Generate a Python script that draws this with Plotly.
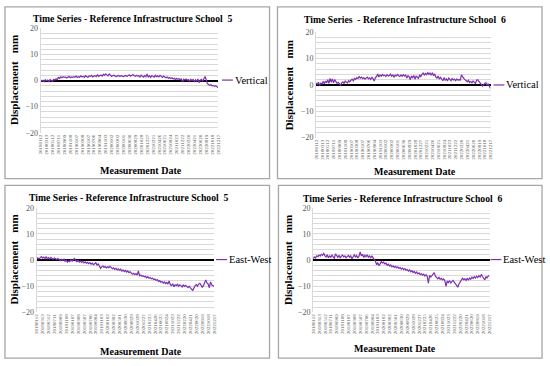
import pandas as pd
import plotly.graph_objects as go

# ---------------- data ----------------
start_date = "2018-01-12"
n_points = 151
dates = pd.date_range(start_date, periods=n_points, freq="12D")

tick_labels = ["20180112", "20180313", "20180512", "20180711", "20180909", "20181108",
               "20190107", "20190308", "20190507", "20190706", "20190904", "20191103",
               "20200102", "20200302", "20200501", "20200630", "20200829", "20201028",
               "20201227", "20210225", "20210426", "20210625", "20210824", "20211023",
               "20211222", "20220220", "20220421", "20220620", "20220819", "20221018",
               "20221217"]

vertical_school5 = [
    0.2, -0.2, 0.1, -0.4, 0.3, -0.1, 0.2, -0.5, 0.4, 0.0,
    -0.3, 0.5, 0.2, 0.7, 0.3, 1.2, 0.8, 1.4, 1.1, 1.5,
    1.2, 1.4, 1.0, 1.3, 1.6, 1.1, 1.4, 1.2, 1.5, 1.3,
    1.7, 1.2, 1.5, 1.3, 1.8, 1.4, 1.6, 1.2, 1.9, 1.5,
    1.3, 1.8, 1.6, 2.0, 1.4, 1.7, 1.9, 1.5, 2.2, 1.6,
    1.9, 2.1, 1.7, 2.4, 2.0, 2.6, 2.2, 1.8, 2.5, 2.0,
    1.6, 1.9, 2.1, 1.7, 1.5, 1.8, 2.0, 1.6, 1.9, 1.7,
    1.5, 1.8, 2.0, 1.6, 1.9, 2.2, 1.7, 1.9, 2.3, 1.8,
    1.6, 2.0, 1.7, 1.9, 1.4, 2.1, 1.8, 1.3, 1.9, 1.5,
    2.5, 1.4, 1.8, 1.2, 1.9, 1.6, 1.3, 2.0, 1.5, 1.8,
    1.4, 2.0, 1.5, 1.2, 1.7, 1.3, 1.1, 1.4, 0.9, 1.2,
    0.8, 1.1, 0.6, 0.9, 0.4, 0.8, 0.5, 0.7, 0.3, 0.6,
    -0.6, 0.5, 0.2, 0.6, 0.1, 0.4, -0.3, 0.5, 0.0, 0.4,
    -0.5, 0.3, -0.2, 0.6, -0.8, 0.2, 0.5, -0.3, 0.4, 1.6,
    0.3, -1.2, -1.5, -1.8, -1.6, -2.0, -1.9, -2.2, -2.0, -2.4, -2.7]

vertical_school6 = [
    0.8, 0.3, 1.0, -0.2, 0.7, 0.4, 1.2, 0.5, 1.5, 0.8,
    2.0, 0.6, 2.5, 1.0, 2.3, 0.8, 2.0, 1.2, 0.6, 1.0,
    0.4, -0.1, 0.8, 1.2, 0.6, 1.5, 1.0, 0.8, 1.6, 1.2,
    1.8, 2.2, 1.6, 2.5, 2.1, 2.8, 2.4, 3.2, 2.6, 3.0,
    2.4, 2.8, 2.2, 2.6, 3.0, 2.3, 2.7, 2.1, 2.9, 2.4,
    1.5, 2.8, 3.2, 4.2, 3.0, 3.8, 3.3, 4.0, 3.5, 3.7,
    3.2, 3.9, 3.4, 3.6, 4.1, 3.3, 3.8, 3.0, 3.7, 3.4,
    4.0, 3.5, 3.2, 3.8, 3.3, 3.9, 3.4, 3.7, 2.6, 3.5,
    3.1, 2.0, 3.4, 2.8, 3.6, 2.2, 3.3, 3.0, 2.5, 3.8,
    3.2, 4.0, 4.5, 3.8, 4.4, 3.9, 4.7, 4.0, 4.5, 3.7,
    4.6, 3.5, 4.2, 3.0, 2.6, 3.4, 2.2, 2.9, 2.4, 1.6,
    2.8, 1.8, 2.3, 1.5, 2.6, 2.0, 1.6, 2.4, 1.9, 2.2,
    1.6, 2.3, 1.8, 2.1, 1.7, 3.8, 3.0, 2.5, 2.0, 1.6,
    1.2, 1.8, 0.9, 1.3, 0.8, 1.5, 1.0, 0.6, 1.8, 2.0,
    1.4, 0.5, 0.2, -0.5, 0.3, 0.6, 0.9, -0.2, 0.5, -0.8, -1.3]

eastwest_school5 = [
    0.3, 0.8, 0.4, 1.0, 1.3, 0.7, 1.1, 0.6, 1.2, 0.5,
    0.9, 0.4, 1.0, 0.6, 0.3, 0.8, 0.5, 0.2, 0.6, 0.1,
    -0.2, 0.3, -0.1, 0.4, -0.5, 0.0, -0.8, -0.3, -0.6, 0.1,
    -0.4, 0.2, 0.6, -0.2, -0.6, -0.1, -0.8, -0.4, -0.9, -0.5,
    -1.1, -0.7, -1.2, -0.9, -1.4, -1.0, -1.6, -1.2, -1.8, -1.4,
    -1.0, -1.9, -1.5, -2.3, -3.2, -2.6, -2.3, -2.8, -2.5, -3.0,
    -2.6, -2.9, -2.4, -2.8, -3.3, -3.0, -3.6, -3.2, -3.8, -3.4,
    -3.9, -3.5, -4.2, -3.8, -4.4, -4.0, -4.6, -4.2, -4.8, -4.5,
    -5.0, -5.4, -5.1, -5.6, -5.2, -5.8, -4.2, -6.0, -5.7, -6.2,
    -6.0, -6.5, -6.2, -6.8, -6.4, -7.0, -6.7, -7.2, -7.0, -7.5,
    -7.3, -7.8, -7.5, -8.2, -7.9, -8.5, -8.2, -8.8, -8.4, -9.0,
    -8.6, -9.2, -8.0, -9.4, -9.8, -9.1, -10.2, -9.5, -9.8, -9.3,
    -10.0, -9.5, -9.8, -10.3, -9.6, -10.1, -9.7, -10.2, -10.6, -10.0,
    -10.8, -11.2, -11.6, -10.5, -9.8, -9.4, -10.0, -9.2, -8.9, -9.6,
    -10.5, -9.8, -8.6, -7.6, -8.8, -9.2, -10.6, -8.4, -9.5, -9.9, -10.1]

eastwest_school6 = [
    0.5, 1.2, 0.8, 1.6, 1.3, 1.9, 1.5, 2.2, 1.8, 2.5,
    1.7, 1.2, 2.0, 0.9, 1.6, 1.1, 1.9, 1.3, 0.6, 2.4,
    1.4, 1.0, 1.8, 0.8, 1.5, 1.9, 1.2, 1.6, 0.9, 1.4,
    1.8, 1.1, 1.6, 0.5, 1.3, 2.0, 1.2, 1.7, 0.8, 1.5,
    3.1, 1.6, 2.2, 1.0, 1.8, 1.3, 2.0, 1.1, 1.6, 0.9,
    1.5, 0.8, 0.2, -0.5, -1.8, -1.0, -2.2, -1.2, -0.6, -1.1,
    -0.8, -1.5, -1.2, -2.0, -1.6, -2.3, -1.9, -2.6, -2.2, -2.8,
    -2.4, -3.0, -2.6, -3.2, -2.9, -3.5, -3.1, -3.7, -3.3, -3.9,
    -3.6, -4.2, -3.8, -4.5, -4.1, -4.8, -4.4, -5.1, -4.6, -5.3,
    -4.9, -5.6, -5.2, -5.8, -5.4, -6.1, -5.6, -6.3, -8.9, -5.9,
    -6.5, -6.0, -5.4, -4.8, -6.2, -6.8, -7.2, -6.6, -7.4, -7.0,
    -7.6, -7.2, -7.9, -10.1, -8.2, -8.6, -7.9, -8.8, -8.3, -7.8,
    -8.5, -9.0, -9.6, -10.4, -9.2, -8.6, -7.8, -7.0, -7.5, -7.2,
    -7.8, -7.1, -7.6, -6.9, -7.4, -6.6, -7.0, -6.4, -6.9, -6.2,
    -6.7, -6.0, -6.5, -5.5, -6.3, -7.0, -7.6, -6.4, -6.8, -6.1, -5.9]

titles = ["Time Series - Reference Infrastructure School  5",
          "Time Series  - Reference Infrastructure School  6",
          "Time Series - Reference Infrastructure School  5",
          "Time Series - Reference Infrastructure School  6"]
series_names = ["Vertical", "Vertical", "East-West", "East-West"]
series_values = [vertical_school5, vertical_school6, eastwest_school5, eastwest_school6]
y_title = "Displacement\u00a0\u00a0\u00a0mm"
x_title = "Measurement Date"

# ---------------- layout ----------------
W, H = 550, 366
LINE_COLOR = "#7F2FB0"
SERIF = "Liberation Serif"
GRID = "#D9D9D9"

# panel geometry in pixels: plot area (x0, x1, y0, y1), frame, title pos, legend pos, axis titles
panels = [
    dict(plot=(39, 218, 25, 132), frame=(3, 270, 3, 179), title=(132, 15), leg=(222, 78),
         xt=(140, 171), yt=(12, 78)),
    dict(plot=(317, 493, 29, 137), frame=(278, 545, 3, 179), title=(407, 16), leg=(496, 83),
         xt=(417, 172), yt=(290, 83)),
    dict(plot=(35, 214, 209, 316), frame=(3, 270, 186, 363), title=(128, 198), leg=(216, 262),
         xt=(140, 356), yt=(12, 262)),
    dict(plot=(314, 492, 209, 316), frame=(279, 545, 186, 363), title=(405, 199), leg=(493, 262),
         xt=(397, 353), yt=(288, 262)),
]

def px(x):
    return x / W

def py(y):
    return 1 - y / H

tick_dates = pd.to_datetime(tick_labels, format="%Y%m%d")

fig = go.Figure()
shapes = []
annotations = []
for i, (p, name, vals, title) in enumerate(zip(panels, series_names, series_values, titles)):
    k = "" if i == 0 else str(i + 1)
    fig.add_trace(go.Scatter(x=dates, y=vals, mode="lines", name=name,
                             line=dict(color=LINE_COLOR, width=1.2),
                             xaxis="x" + k, yaxis="y" + k, showlegend=False))
    x0, x1, y0, y1 = p["plot"]
    fig.update_layout(**{
        "xaxis" + k: dict(domain=[px(x0), px(x1)], anchor="y" + k, type="date",
                          range=[dates[0], dates[-1]],
                          tickmode="array", tickvals=tick_dates, ticktext=tick_labels,
                          tickangle=-90, tickfont=dict(size=5, color="#595959", family=SERIF),
                          showgrid=False, zeroline=False, showline=False, ticks=""),
        "yaxis" + k: dict(domain=[py(y1), py(y0)], anchor="x" + k, range=[-20, 20],
                          tickmode="linear", tick0=-20, dtick=10,
                          tickfont=dict(size=8, color="#595959", family=SERIF),
                          showgrid=True, gridcolor=GRID, gridwidth=1,
                          minor=dict(dtick=2, showgrid=True, gridcolor=GRID, gridwidth=1),
                          zeroline=True, zerolinecolor="#000000", zerolinewidth=1.6,
                          showline=True, linecolor=GRID, linewidth=1, ticks=""),
    })
    fx0, fx1, fy0, fy1 = p["frame"]
    shapes.append(dict(type="rect", xref="paper", yref="paper",
                       x0=px(fx0), x1=px(fx1), y0=py(fy1), y1=py(fy0),
                       line=dict(color="#A6A6A6", width=1.3), fillcolor="rgba(0,0,0,0)", layer="below"))
    lx, ly = p["leg"]
    shapes.append(dict(type="line", xref="paper", yref="paper",
                       x0=px(lx), x1=px(lx + 11), y0=py(ly), y1=py(ly),
                       line=dict(color=LINE_COLOR, width=1.2)))
    annotations.append(dict(text=name, xref="paper", yref="paper", x=px(lx + 11), y=py(ly),
                            xanchor="left", yanchor="middle", showarrow=False,
                            font=dict(family=SERIF, size=10.5, color="#000000")))
    tx, ty = p["title"]
    annotations.append(dict(text="<b>" + title + "</b>", xref="paper", yref="paper",
                            x=px(tx), y=py(ty), xanchor="center", yanchor="middle", showarrow=False,
                            font=dict(family=SERIF, size=9.7, color="#000000")))
    xtx, xty = p["xt"]
    annotations.append(dict(text="<b>" + x_title + "</b>", xref="paper", yref="paper",
                            x=px(xtx), y=py(xty), xanchor="center", yanchor="middle", showarrow=False,
                            font=dict(family=SERIF, size=10, color="#000000")))
    ytx, yty = p["yt"]
    annotations.append(dict(text="<b>" + y_title + "</b>", xref="paper", yref="paper",
                            x=px(ytx), y=py(yty), xanchor="center", yanchor="middle", showarrow=False,
                            textangle=-90,
                            font=dict(family=SERIF, size=11, color="#000000")))

fig.update_layout(width=W, height=H, margin=dict(l=0, r=0, t=0, b=0),
                  paper_bgcolor="white", plot_bgcolor="white",
                  shapes=shapes, annotations=annotations, showlegend=False)

fig.write_html("out.html", config={"displayModeBar": False},
               post_script="document.body.style.margin='0';")
